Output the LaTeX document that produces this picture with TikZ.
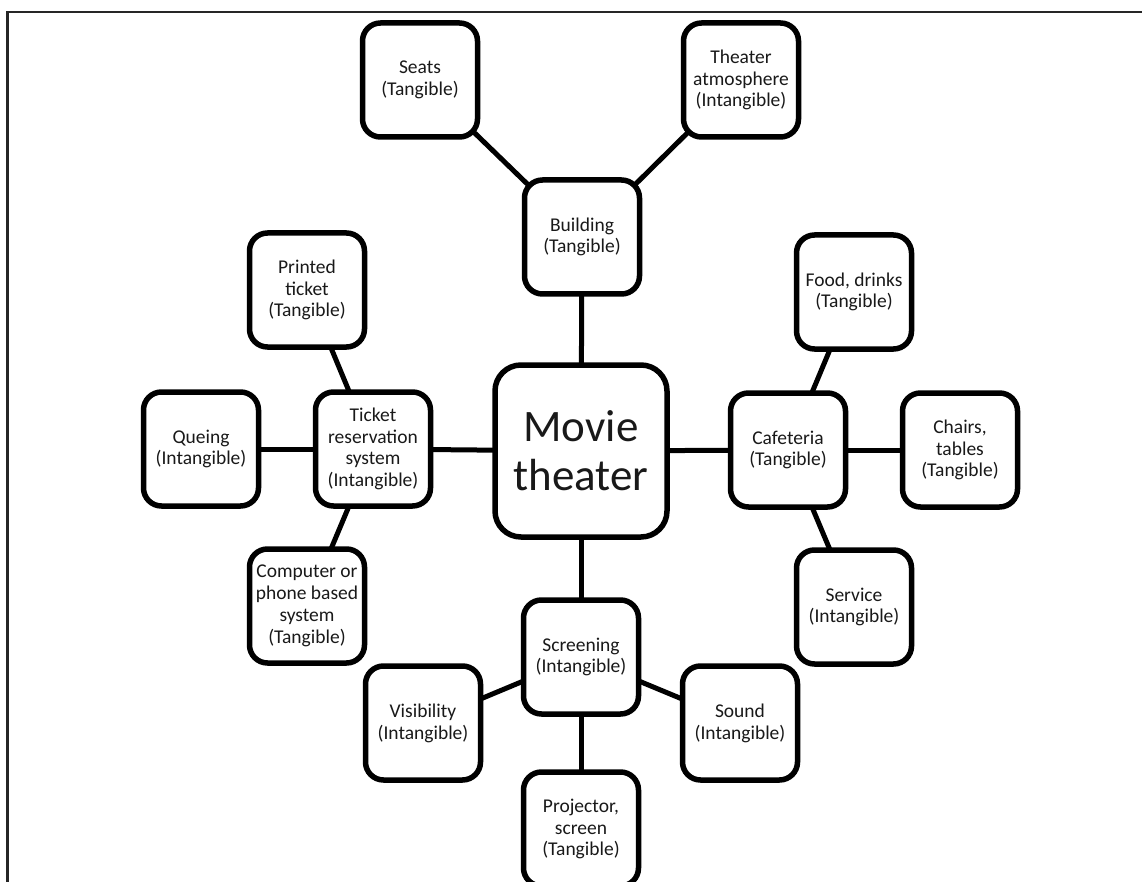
\documentclass[tikz,border=0pt]{standalone}
\usepackage{fontspec}
\setmainfont{Carlito}
\usetikzlibrary{backgrounds}
\begin{document}
\begin{tikzpicture}[x=1pt,y=-1pt,
  box/.style={draw, line width=5.5pt, rounded corners=18pt, fill=white, align=center,
    minimum width=115pt, minimum height=114pt, inner sep=2pt, text=black!90,
    font=\fontsize{19.5}{21.8}\selectfont},
  big/.style={box, minimum width=172pt, minimum height=172pt, rounded corners=26pt,
    font=\fontsize{45}{49}\selectfont},
  link/.style={line width=5pt},
  frame/.style={line width=2.5pt, black!85}]
\useasboundingbox (0,0) rectangle (1142,882);
\coordinate (fA) at (7.5,882);
\coordinate (fB) at (7.5,12);
\coordinate (fC) at (1142,12);
\draw[frame] (fA) -- (fB) -- (fC);

\node[big] (movie) at (581,451) {Movie\\theater};
\node[box] (building) at (582,237) {Building\\(Tangible)};
\node[box] (seats) at (420,80) {Seats\\(Tangible)};
\node[box] (atmos) at (741,80) {Theater\\atmosphere\\(Intangible)};
\node[box] (ticket) at (373,449) {Ticket\\reservation\\system\\(Intangible)};
\node[box] (printed) at (307,290) {Printed\\ticket\\(Tangible)};
\node[box] (queing) at (201,449) {Queing\\(Intangible)};
\node[box] (computer) at (307,606) {Computer or\\phone based\\system\\(Tangible)};
\node[box] (cafe) at (788,450) {Cafeteria\\(Tangible)};
\node[box] (food) at (854,292) {Food, drinks\\(Tangible)};
\node[box] (chairs) at (960,450) {Chairs,\\tables\\(Tangible)};
\node[box] (service) at (854,607) {Service\\(Intangible)};
\node[box] (screen) at (581,657) {Screening\\(Intangible)};
\node[box] (visib) at (423,723) {Visibility\\(Intangible)};
\node[box] (sound) at (740,723) {Sound\\(Intangible)};
\node[box] (proj) at (581,829) {Projector,\\screen\\(Tangible)};

\begin{pgfonlayer}{background}
\draw[link] (movie.center) -- (building.center);
\draw[link] (building.center) -- (seats.center);
\draw[link] (building.center) -- (atmos.center);
\draw[link] (movie.center) -- (ticket.center);
\draw[link] (ticket.center) -- (printed.center);
\draw[link] (ticket.center) -- (queing.center);
\draw[link] (ticket.center) -- (computer.center);
\draw[link] (movie.center) -- (cafe.center);
\draw[link] (cafe.center) -- (food.center);
\draw[link] (cafe.center) -- (chairs.center);
\draw[link] (cafe.center) -- (service.center);
\draw[link] (movie.center) -- (screen.center);
\draw[link] (screen.center) -- (visib.center);
\draw[link] (screen.center) -- (sound.center);
\draw[link] (screen.center) -- (proj.center);
\end{pgfonlayer}
\end{tikzpicture}
\end{document}
